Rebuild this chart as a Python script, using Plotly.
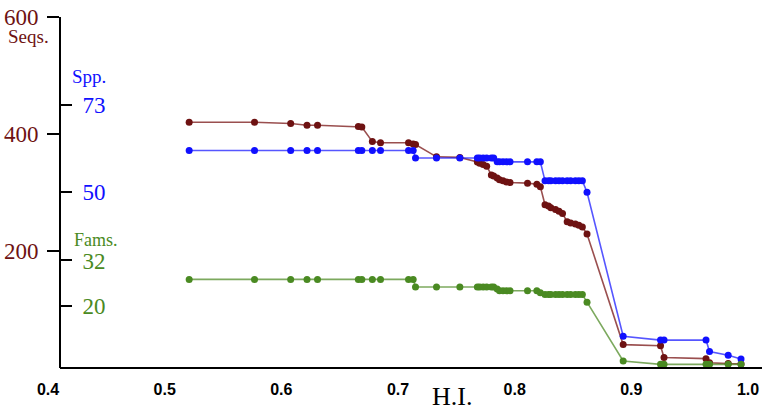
import plotly.graph_objects as go

# H.I. thresholds (shared x values)
hi = [0.521, 0.577, 0.608, 0.622, 0.631, 0.666, 0.669, 0.678, 0.685, 0.709,
      0.713, 0.715, 0.733, 0.753, 0.768, 0.770, 0.773, 0.776, 0.780, 0.782,
      0.785, 0.787, 0.790, 0.793, 0.796, 0.811, 0.819, 0.822, 0.826, 0.829,
      0.831, 0.835, 0.838, 0.841, 0.845, 0.848, 0.852, 0.855, 0.858, 0.862,
      0.893, 0.925, 0.928, 0.964, 0.967, 0.983, 0.994]

seqs = [420, 420, 418, 415, 415, 413, 412, 387, 385, 385,
        383, 382, 361, 360, 352, 350, 348, 345, 330, 328,
        325, 322, 320, 318, 317, 316, 314, 310, 279, 277,
        274, 271, 268, 264, 250, 248, 246, 244, 241, 229,
        40, 38, 18, 16, 9, 7.5, 7]

spp = [61, 61, 61, 61, 61, 61, 61, 61, 61, 61,
       61, 59, 59, 59, 59, 59, 59, 59, 59, 59,
       58, 58, 58, 58, 58, 58, 58, 58, 53, 53,
       53, 53, 53, 53, 53, 53, 53, 53, 53, 50,
       12, 11, 11, 11, 8, 7, 6]

fams = [27, 27, 27, 27, 27, 27, 27, 27, 27, 27,
        27, 25, 25, 25, 25, 25, 25, 25, 25, 25,
        24.5, 24, 24, 24, 24, 24, 24, 23.5, 23, 23,
        23, 23, 23, 23, 23, 23, 23, 23, 23, 21,
        5.5, 4.6, 4.6, 4.6, 4.6, 4.6, 4.6]

x_ticks = [0.4, 0.5, 0.6, 0.7, 0.8, 0.9, 1.0]
x_ticktext = ["0.4", "0.5", "0.6", "0.7", "0.8", "0.9", "1.0"]
seqs_ticks = [200, 400, 600]
spp_ticks = [50, 73]
fams_ticks = [20, 32]

MAROON = "#6e1212"
BLUE = "#1010ff"
GREEN = "#4a8a22"
SERIF = "Liberation Serif"

PX_PER_UNIT = 1166.7          # horizontal scale (pixels per H.I. unit)
X0_PIX = 48                   # pixel where H.I. = 0.4 sits
W, H = 762, 405
ML = 36
MT, MR = 17, 0
MB = H - 368
plot_w = W - ML - MR
plot_h = H - MT - MB
axis_pos = (60 - ML) / plot_w
x_lo = 0.4 - (X0_PIX - ML) / PX_PER_UNIT
x_hi = x_lo + plot_w / PX_PER_UNIT


def px(sx):
    return (sx - ML) / plot_w


def py(sy):
    return (368 - sy) / plot_h


fig = go.Figure()
fig.add_trace(go.Scatter(x=hi, y=fams, yaxis="y3", mode="lines+markers",
                         line=dict(color="rgba(80,140,40,0.75)", width=1.6),
                         marker=dict(color=GREEN, size=7), name="Fams."))
fig.add_trace(go.Scatter(x=hi, y=seqs, yaxis="y", mode="lines+markers",
                         line=dict(color="rgba(120,20,20,0.75)", width=1.6),
                         marker=dict(color=MAROON, size=7), name="Seqs."))
fig.add_trace(go.Scatter(x=hi, y=spp, yaxis="y2", mode="lines+markers",
                         line=dict(color="rgba(30,30,255,0.75)", width=1.6),
                         marker=dict(color=BLUE, size=7), name="Spp."))

sec_range = [3.64, 96.2]

fig.update_layout(
    width=W, height=H,
    margin=dict(l=ML, r=MR, t=MT, b=MB, autoexpand=False),
    plot_bgcolor="white", paper_bgcolor="white",
    showlegend=False,
    xaxis=dict(range=[x_lo, x_hi], domain=[0, 1], anchor="free", position=0,
               tickmode="array", tickvals=x_ticks, ticktext=x_ticktext, ticks="",
               showgrid=False, zeroline=False, showline=False, automargin=False,
               ticklabelstandoff=10, ticklabeloverflow="allow",
               tickfont=dict(family="Liberation Sans", size=16, color="black", weight="bold")),
    yaxis=dict(range=[0, 600], anchor="free", position=axis_pos, automargin=False,
               tickvals=seqs_ticks, ticks="outside", ticklen=12, tickwidth=2,
               tickcolor="black", showline=True, linecolor="black", linewidth=2,
               showgrid=False, zeroline=False, ticklabelstandoff=4,
               ticklabeloverflow="allow",
               tickfont=dict(family=SERIF, size=23, color=MAROON)),
    yaxis2=dict(range=sec_range, overlaying="y", anchor="free", position=axis_pos,
                side="right", automargin=False,
                tickvals=spp_ticks, ticks="outside", ticklen=11, tickwidth=2,
                tickcolor="black", ticklabelstandoff=6, ticklabeloverflow="allow",
                showline=False, showgrid=False, zeroline=False,
                tickfont=dict(family=SERIF, size=23, color=BLUE)),
    yaxis3=dict(range=sec_range, overlaying="y", anchor="free", position=axis_pos,
                side="right", automargin=False,
                tickvals=fams_ticks, ticks="outside", ticklen=11, tickwidth=2,
                tickcolor="black", ticklabelstandoff=6, ticklabeloverflow="allow",
                showline=False, showgrid=False, zeroline=False,
                tickfont=dict(family=SERIF, size=23, color=GREEN)),
    shapes=[dict(type="line", xref="paper", yref="paper", x0=axis_pos, x1=1,
                 y0=0, y1=0, line=dict(color="black", width=2))],
    annotations=[
        dict(text="Seqs.", xref="paper", yref="paper", x=px(28), y=py(37),
             xanchor="center", yanchor="middle",
             showarrow=False, font=dict(family=SERIF, size=19, color=MAROON)),
        dict(text="Spp.", xref="paper", yref="paper", x=px(89), y=py(76),
             xanchor="center", yanchor="middle",
             showarrow=False, font=dict(family=SERIF, size=19, color=BLUE)),
        dict(text="Fams.", xref="paper", yref="paper", x=px(96), y=py(240),
             xanchor="center", yanchor="middle",
             showarrow=False, font=dict(family=SERIF, size=18, color=GREEN)),
        dict(text="H.I.", xref="paper", yref="paper", x=px(452), y=py(380),
             xanchor="center", yanchor="top", showarrow=False,
             font=dict(family=SERIF, size=26, color="black")),
    ],
)

fig.write_html("out.html", config={"displayModeBar": False},
               post_script="document.body.style.margin='0';")
